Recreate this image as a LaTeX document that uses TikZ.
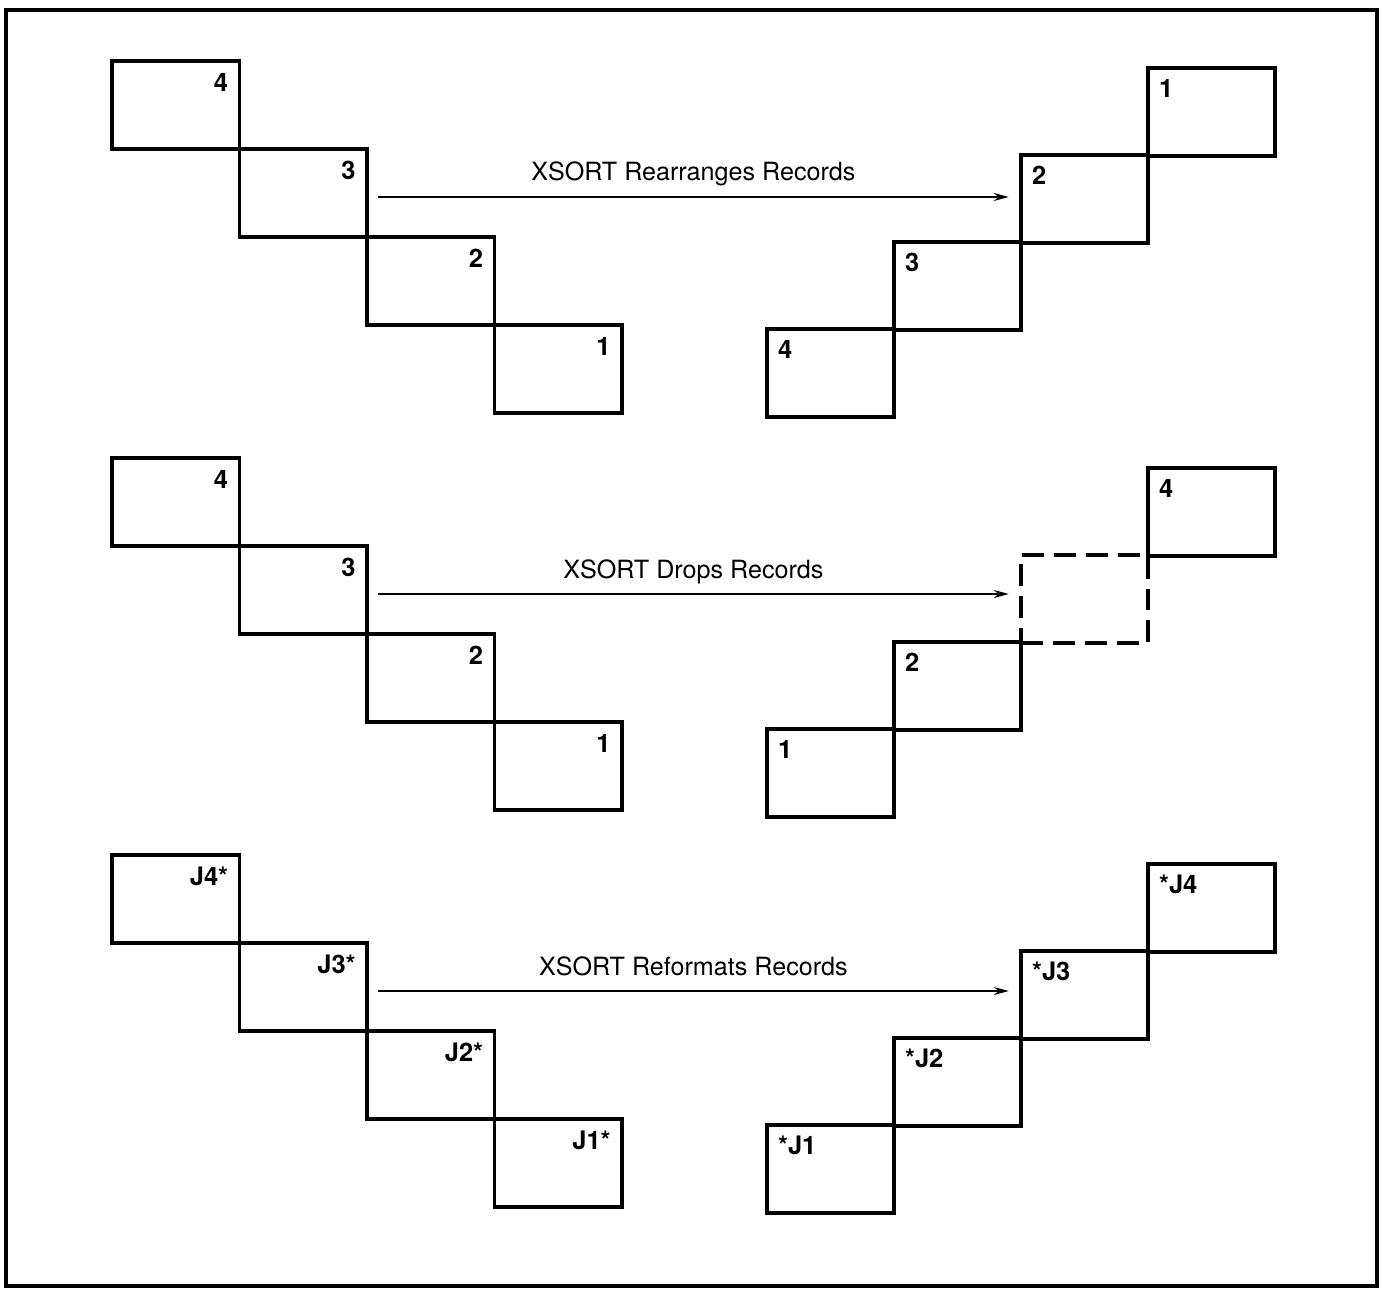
\documentclass[tikz,border=0pt]{standalone}
\usepackage{fontspec}
\setmainfont{TeX Gyre Heros}
\usetikzlibrary{calc,arrows.meta}
\tikzset{
  rec/.style={draw, line width=2pt, minimum width=2.55cm, minimum height=1.76cm, inner sep=0pt, outer sep=0pt},
  gone/.style={rec, dash pattern=on 0.44cm off 0.2cm},
  lbl/.style={font=\bfseries\fontsize{14.5}{15}\selectfont, inner sep=0pt},
  headline/.style={font=\fontsize{14.3}{15}\selectfont, inner sep=0pt}
}

\begin{document}
\begin{tikzpicture}[x=0.02cm, y=-0.02cm, >={Stealth[length=0.3cm,width=0.16cm]}]
  \useasboundingbox (0,0) rectangle (1382,1293);
  \draw[line width=1.8pt] (6,10) rectangle (1377,1286);
  % ---- (a) rearranges: 4 3 2 1 becomes 1 2 3 4 ----
  \begin{scope}
    \foreach \t [count=\j from 0] in {4,3,2,1} {
      \node[rec] (ain\j) at ({175.75+127.5*\j},{105+88*\j}) {};
      \node[lbl, anchor=north east] at ([shift={(-11,12)}]ain\j.north east) {\t};
    }
    \foreach \t [count=\j from 0] in {4,3,2,1} {
      \node[rec] (aout\j) at ({830.5+127*\j},{373-87*\j}) {};
      \node[lbl, anchor=north west] at ([shift={(11,11)}]aout\j.north west) {\t};
    }
    \coordinate (asrc) at ($(ain1.east)+(11,4)$);
    \coordinate (adst) at ($(asrc -| aout2.west)+(-12,0)$);
    \draw[->, line width=1.1pt] (asrc) -- (adst)
      node[headline, midway, anchor=base, yshift=0.32cm] {XSORT Rearranges Records};
  \end{scope}
  % ---- (b) drops: record 3 is left out ----
  \begin{scope}[shift={(0,397)}]
    \foreach \t [count=\j from 0] in {4,3,2,1} {
      \node[rec] (bin\j) at ({175.75+127.5*\j},{105+88*\j}) {};
      \node[lbl, anchor=north east] at ([shift={(-11,12)}]bin\j.north east) {\t};
    }
    \foreach \j/\t in {0/1,1/2,3/4} {
      \node[rec] (bout\j) at ({830.5+127*\j},{376-87*\j}) {};
      \node[lbl, anchor=north west] at ([shift={(11,11)}]bout\j.north west) {\t};
    }
    % the dropped one
    \node[gone] (bout2) at ({830.5+127*2},{376-87*2}) {};
    \coordinate (bsrc) at ($(bin1.east)+(11,4)$);
    \coordinate (bdst) at ($(bsrc -| bout2.west)+(-12,0)$);
    \draw[->, line width=1.1pt] (bsrc) -- (bdst)
      node[headline, midway, anchor=base, yshift=0.32cm] {XSORT Drops Records};
  \end{scope}
  % ---- (c) reformats: J<n>* becomes *J<n> ----
  \begin{scope}[shift={(0,794)}]
    \foreach \t [count=\j from 0] in {J4*,J3*,J2*,J1*} {
      \node[rec] (cin\j) at ({175.75+127.5*\j},{105+88*\j}) {};
      \node[lbl, anchor=north east] at ([shift={(-11,12)}]cin\j.north east) {\t};
    }
    \foreach \t [count=\j from 0] in {*J1,*J2,*J3,*J4} {
      \node[rec] (cout\j) at ({830.5+127*\j},{375-87*\j}) {};
      \node[lbl, anchor=north west] at ([shift={(11,11)}]cout\j.north west) {\t};
    }
    \coordinate (csrc) at ($(cin1.east)+(11,4)$);
    \coordinate (cdst) at ($(csrc -| cout2.west)+(-12,0)$);
    \draw[->, line width=1.1pt] (csrc) -- (cdst)
      node[headline, midway, anchor=base, yshift=0.32cm] {XSORT Reformats Records};
  \end{scope}
\end{tikzpicture}
\end{document}
